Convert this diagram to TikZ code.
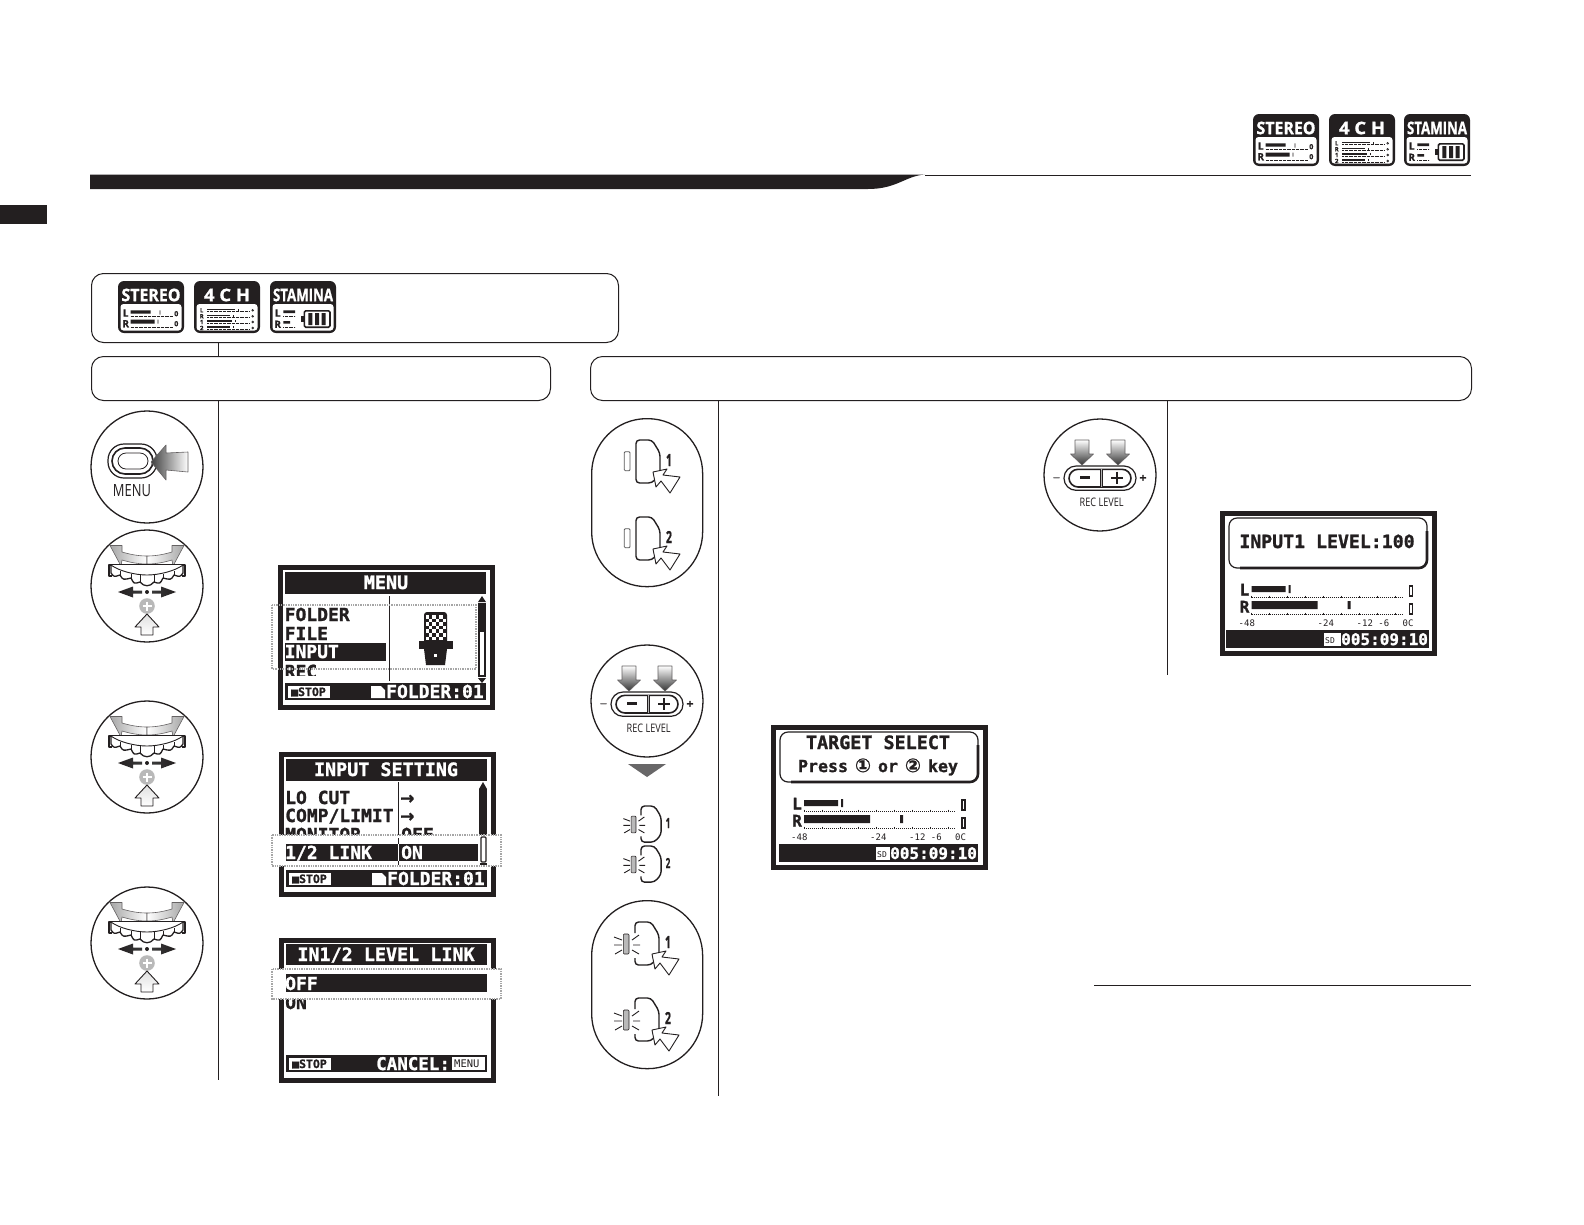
\documentclass[tikz,border=0pt]{standalone}
\usepackage{fontspec}
\usepackage{graphicx}
\newfontfamily\lcdf[BoldFeatures={FakeBold=1.3}]{DejaVu Sans Mono}
\newfontfamily\dvs[BoldFeatures={FakeBold=1}]{DejaVu Sans}
\newfontfamily\opn[BoldFeatures={FakeBold=1.2}]{Open Sans}
\definecolor{ink}{HTML}{231F20}
\newcommand\lcdb[1]{\lcdf\bfseries\fontsize{#1}{#1}\selectfont}
\newcommand\lcdr[1]{\lcdf\fontsize{#1}{#1}\selectfont}
\tikzset{
  thinbox/.style={draw=ink,line width=1pt,rounded corners=12pt,minimum height=44pt,inner sep=0pt,anchor=north west},
  roundicon/.style={circle,draw=ink,line width=1.3pt,minimum size=112pt,inner sep=0pt},
  rule/.style={ink,line width=1pt},
  ltxt/.style={inner sep=0pt,anchor=base west,text=ink},
  ctxt/.style={inner sep=0pt,anchor=base,text=ink},
  wtxt/.style={inner sep=0pt,anchor=base west,text=white},
  ptr/.style={draw=ink,line width=.9pt,line join=round,fill=white},
  gshade/.style={draw=ink!70,line width=.6pt,line join=round},
  dotband/.style={draw=gray!70,line width=1.5pt,dash pattern=on 1.4pt off 1pt},
  mdots/.style={ink,line width=.8pt,dash pattern=on .8pt off 1.2pt},
  bdots/.style={ink,line width=.5pt,dash pattern=on .6pt off .7pt},
  %
  stereobadge/.pic={
    \fill[ink,rounded corners=6pt] (0,0) rectangle (66,52);
    \fill[white,rounded corners=3pt] (2.5,23) rectangle (63.5,49.5);
    \node[inner sep=0pt,text=white] (-t) at (33,14) {\resizebox{59pt}{12.5pt}{\opn\bfseries STEREO}};
    \node[inner sep=0pt,text=ink] (-l) at (7.7,32) {\opn\bfseries\fontsize{10}{10}\selectfont L};
    \node[inner sep=0pt,text=ink] (-r) at (7.7,42.7) {\opn\bfseries\fontsize{10}{10}\selectfont R};
    \fill[ink] (12.7,29.3) rectangle (32.7,32.7) (41.6,29.3) rectangle (42.4,33.5);
    \fill[ink] (12.7,38.7) rectangle (36.7,42.7) (39.6,38.7) rectangle (40.4,42.7);
    \draw[bdots] (12.7,35) -- (55,35) (12.7,46) -- (55,46);
    \node[inner sep=0pt,text=ink] (-a) at (58.3,32.7) {\opn\bfseries\fontsize{7}{7}\selectfont 0};
    \node[inner sep=0pt,text=ink] (-b) at (58.3,42.7) {\opn\bfseries\fontsize{7}{7}\selectfont 0};
  },
  chbadge/.pic={
    \fill[ink,rounded corners=6pt] (0,0) rectangle (66,52);
    \fill[white,rounded corners=3pt] (2.5,23) rectangle (63.5,49.5);
    \node[inner sep=0pt,text=white] (-t) at (33,14) {\resizebox{46pt}{12.5pt}{\opn\bfseries 4 C H}};
    \foreach \yy/\ll/\ww [count=\ci] in {29.3/L/41,35.3/R/36,41/1/37.7,47/2/36}{
      \node[inner sep=0pt,text=ink] (-l\ci) at (7.7,\yy) {\opn\bfseries\fontsize{6}{6}\selectfont \ll};
      \fill[ink] (13,\yy-1.8) rectangle (\ww,\yy-.3);
      \fill[ink] (\ww+3,\yy-1.8) rectangle (\ww+3.7,\yy+.2);
      \draw[bdots] (13,\yy+1) -- (55,\yy+1);
      \draw[ink,line width=.6pt] (58.7,\yy) circle (.9);
    }
  },
  staminabadge/.pic={
    \fill[ink,rounded corners=6pt] (0,0) rectangle (66,52);
    \fill[white,rounded corners=3pt] (2.5,23) rectangle (63.5,49.5);
    \node[inner sep=0pt,text=white] (-t) at (33,14) {\resizebox{60pt}{12.5pt}{\opn\bfseries STAMINA}};
    \node[inner sep=0pt,text=ink] (-l) at (7.7,32) {\opn\bfseries\fontsize{10}{10}\selectfont L};
    \node[inner sep=0pt,text=ink] (-r) at (7.7,43.3) {\opn\bfseries\fontsize{10}{10}\selectfont R};
    \fill[ink] (13.3,29.3) rectangle (25,32) (13.3,40) rectangle (20,42.7);
    \draw[bdots] (13.3,35) -- (25,35) (13.3,46) -- (25,46);
    \draw[ink,line width=1.6pt,rounded corners=1.5pt] (34.3,29.8) rectangle (60,46.2);
    \fill[ink] (30.7,35) rectangle (34.3,41);
    \fill[ink] (38.3,32) rectangle (42.3,44) (45,32) rectangle (49,44) (51.7,32) rectangle (55.7,44);
  },
  %
  dial/.pic={
    \node[roundicon] (-c) at (0,0) {};
    \path[gshade,left color=gray!70,right color=white]
      (0,-30) .. controls (-10,-30) and (-18,-32) .. (-25,-34) -- (-25,-40.5) -- (-37,-40.5) -- (-26,-20) -- (-25,-26)
      .. controls (-18,-24) and (-10,-22) .. (0,-22) -- cycle;
    \path[gshade,right color=gray!70,left color=white]
      (0,-30) .. controls (10,-30) and (18,-32) .. (25,-34) -- (25,-40.5) -- (37,-40.5) -- (26,-20) -- (25,-26)
      .. controls (18,-24) and (10,-22) .. (0,-22) -- cycle;
    \draw[ink,line width=1.2pt,line join=round] (-35,-10) -- (-38,-10) -- (-38,-21) -- (38,-21) -- (38,-10) -- (35,-10);
    \draw[ink,line width=1.3pt,fill=white,line join=round] (-36,-21)
      -- (-36,-13) .. controls (-33,-9) .. (-27,-11) .. controls (-24,-6) .. (-16,-8) .. controls (-13,-2) .. (-7,-4)
      .. controls (-3,1) and (3,1) .. (7,-4) .. controls (13,-2) .. (16,-8) .. controls (24,-6) .. (27,-11)
      .. controls (33,-9) .. (36,-13) -- (36,-21);
    \draw[ink,line width=.9pt] (-36,-21) .. controls (-28,-15) and (-12,-11) .. (0,-11) .. controls (12,-11) and (28,-15) .. (36,-21);
    \draw[ink,line width=.9pt] (-27,-11) -- (-27,-15.5) (-16,-8) -- (-16,-12.5) (-7,-4) -- (-7,-11) (7,-4) -- (7,-11) (16,-8) -- (16,-12.5) (27,-11) -- (27,-15.5);
    \fill[ink] (0,6) circle (2);
    \path[left color=ink,right color=gray!45!black] (-29,6) -- (-14,.5) -- (-14,4.5) -- (-5,4.5) -- (-5,7.5) -- (-14,7.5) -- (-14,11.5) -- cycle;
    \path[right color=ink,left color=gray!45!black] (29,6) -- (14,.5) -- (14,4.5) -- (5,4.5) -- (5,7.5) -- (14,7.5) -- (14,11.5) -- cycle;
    \fill[gray!55] (0,20) circle (7.8);
    \draw[white,line width=2pt] (-4.5,20) -- (4.5,20) (0,15.5) -- (0,24.5);
    \path[ptr,top color=gray!25,bottom color=white] (0,28) -- (12,41) -- (6,41) -- (6,49) -- (-6,49) -- (-6,41) -- (-12,41) -- cycle;
  },
  %
  reclevel/.pic={
    \node[roundicon] (-c) at (0,0) {};
    \draw[ink,line width=1.2pt,rounded corners=12pt] (-36,-9) rectangle (36,15.3);
    \draw[ink,line width=1.6pt,rounded corners=9pt] (-31,-5.7) rectangle (31,12);
    \draw[gray!60,line width=2pt] (1.2,-5.7) -- (1.2,12);
    \draw[ink,line width=.6pt] (0,-5.7) -- (0,12) (2.4,-5.7) -- (2.4,12);
    \fill[ink] (-20,1.3) rectangle (-10,4.2);
    \draw[ink,line width=2pt] (11,2.7) -- (23,2.7) (17,-3.3) -- (17,8.7);
    \node[inner sep=0pt,text=ink] (-m) at (-43.5,3.5) {\resizebox{7pt}{2pt}{\opn\bfseries –}};
    \node[inner sep=0pt,text=ink] (-p) at (43,3.5) {\resizebox{7pt}{7pt}{\opn\bfseries +}};
    \node[inner sep=0pt,text=ink] (-t) at (1.7,27) {\resizebox{44pt}{8.5pt}{\opn REC LEVEL}};
    \foreach \xc in {-18,18}{
      \path[gshade,top color=white,bottom color=gray!40!black]
        (\xc-7,-35) -- (\xc+7,-35) -- (\xc+7,-21) -- (\xc+11.5,-21) -- (\xc,-10) -- (\xc-11.5,-21) -- (\xc-7,-21) -- cycle;
    }
  },
}
% button shapes, local origin = left/top of the key
\newcommand\keyclosed{\draw[ink,line width=1.4pt,rounded corners=3.5pt] (0,20) -- (0,0) -- (16,0) -- (24,13) -- (24,34) -- (16,43) -- (0,43) -- cycle;}
\newcommand\keyopen{\draw[ink,line width=1.4pt,rounded corners=3.5pt] (0,11) -- (0,0) -- (16,0) -- (24,13) -- (24,34) -- (16,43) -- (0,43) -- (0,36);}
\newcommand\keyptr{\draw[ptr] (17,32) -- (31,29) -- (27,35) -- (44,37) -- (34,53) -- (25,41) -- (20,47) -- cycle;}
\newcommand\rays{\draw[ink,line width=.9pt] (-21,15) -- (-13,18) (-21,23) -- (-13,23) (-20,32) -- (-13,28) (-3,18) -- (4,13) (-2,23) -- (5,23) (-3,28) -- (4,32);}
\newcommand\ledoff{\draw[gray!70!black,line width=.8pt,rounded corners=1pt] (-11.7,11.7) rectangle (-6,30.7);}
\newcommand\ledon{\draw[ink,line width=.6pt,fill=gray!55,rounded corners=1pt] (-11.7,12) rectangle (-6,32);}
\tikzset{
  keypress/.pic={\ledoff\keyclosed\keyptr
    \node[inner sep=0pt,anchor=base,text=ink] (-n) at (33,26) {\resizebox{6pt}{12pt}{\opn\bfseries\tikzpictext}};},
  keyflash/.pic={\ledon\rays\keyopen\keyptr
    \node[inner sep=0pt,anchor=base,text=ink] (-n) at (33,26) {\resizebox{6pt}{12pt}{\opn\bfseries\tikzpictext}};},
  keysmall/.pic={\begin{scope}[scale=.84]\ledon\rays\keyopen\end{scope}
    \node[inner sep=0pt,anchor=base,text=ink] (-n) at (27,22) {\resizebox{4.5pt}{10pt}{\opn\bfseries\tikzpictext}};},
}
% LCD helpers
\newcommand\lcdframe{\fill[white] (0,0) rectangle (217,145);\draw[ink,line width=5pt] (2.5,2.5) rectangle (214.5,142.5);}
\newcommand\stopbox[1]{%
  \fill[ink] (7,#1) rectangle (208,#1+17);
  \fill[white] (10,#1+3) rectangle (52,#1+15);
  \node[ltxt] (stp) at (13,#1+13) {\lcdb{11.5}■STOP};}
% #1 left, #2 right, #3 left of the SD box, #4 left of the digits
\newcommand\meterbar[4]{%
  \fill[ink] (#1,119) rectangle (#2,137);
  \fill[white] (#3,121.5) rectangle (#4-.5,134.5);
  \node[ltxt] (sdt) at (#3+1,132) {\lcdr{8}SD};
  \node[wtxt] (tme) at (#4,134) {\lcdb{16}005:09:10};}
\newcommand\meters{%
  \node[ltxt] (ll) at (21,84.5) {\lcdb{16}L};
  \node[ltxt] (lr) at (21,101.5) {\lcdb{16}R};
  \fill[ink] (33,75) rectangle (67,81) (70,74) rectangle (72,82);
  \fill[ink] (33,90) rectangle (99,98) (129,90) rectangle (132,98);
  \draw[mdots] (33,86) -- (184,86) (33,103) -- (184,103);
  \foreach \xt in {33,51,69,87,105,123,141,159,177}{\draw[ink,line width=.7pt] (\xt,84.5) -- (\xt,86.5) (\xt,101.5) -- (\xt,103.5);}
  \draw[ink,line width=1.4pt] (191,75) rectangle (194,85) (191,93) rectangle (194,103);
  \node[ltxt] (s1) at (20,115) {\lcdr{9}-48};
  \node[ltxt] (s2) at (99,115) {\lcdr{9}-24};
  \node[ltxt] (s3) at (138,115) {\lcdr{9}-12 -6};
  \node[ltxt] (s4) at (184,115) {\lcdr{9}0C};}
\newcommand\msgbox{%
  \draw[ink,line width=1.2pt,rounded corners=8pt] (9,7) rectangle (207,57);
  \draw[ink,line width=2.6pt,rounded corners=8pt] (207,20) -- (207,57) -- (20,57);}
\begin{document}
\begin{tikzpicture}[x=1pt,y=-1pt]
\useasboundingbox (0,0) rectangle (1584,1224);
\fill[white] (0,0) rectangle (1584,1224);
% header
\pic (tb1) at (1253,114) {stereobadge};
\pic (tb2) at (1329,114) {chbadge};
\pic (tb3) at (1404,114) {staminabadge};
\fill[ink] (90,174.5) -- (925,174.5) .. controls (905,176) and (897,189) .. (868,189) -- (90,189) -- cycle;
\draw[rule] (925,175) -- (1471,175);
\fill[ink] (0,205) rectangle (47,224);
% boxes
\node[thinbox,minimum width=527pt,minimum height=69pt] (box1) at (91,273) {};
\node[thinbox,minimum width=459pt] (box2) at (91,356) {};
\node[thinbox,minimum width=881pt] (box3) at (590,356) {};
\pic (mb1) at (118,281) {stereobadge};
\pic (mb2) at (194,281) {chbadge};
\pic (mb3) at (270,281) {staminabadge};
\coordinate (leftEnd) at (218.6,1080);
\coordinate (midEnd) at (718.7,1096);
\coordinate (rightEnd) at (1167,675);
\coordinate (noteL) at (1094,985.6);
\coordinate (noteR) at (1471,985.6);
\draw[rule] (box1.south -| leftEnd) -- (box2.north -| leftEnd);
\draw[rule] (box2.south -| leftEnd) -- (leftEnd);
\draw[rule] (box3.south -| midEnd) -- (midEnd);
\draw[rule] (box3.south -| rightEnd) -- (rightEnd);
\draw[rule] (noteL) -- (noteR);
% MENU icon
\node[roundicon] (menuc) at (147,467) {};
\draw[ink,line width=1.2pt,rounded corners=16pt] (108,444) rectangle (157,478);
\draw[ink,line width=1.6pt,rounded corners=13pt] (112,448) rectangle (153,474);
\draw[ink,line width=.8pt,rounded corners=8pt] (118,453) rectangle (148,469);
\path[gshade,left color=gray!50!black,right color=white] (151,462) -- (166,445) -- (166,453) -- (188,452) -- (188,472) -- (166,470) -- (166,480) -- cycle;
\node[inner sep=0pt,anchor=base,text=ink] (menut) at (132,496) {\resizebox{38pt}{12pt}{\opn MENU}};
\pic (d1) at (147,586) {dial};
\pic (d2) at (147,757) {dial};
\pic (d3) at (147,943) {dial};
% capsule 1
\node[draw=ink,line width=1.3pt,rounded corners=55pt,minimum width=111pt,minimum height=168pt,inner sep=0pt,anchor=north west] (cap1) at (591,418) {};
\pic[pic text=1] (k1) at (636,440) {keypress};
\pic[pic text=2] (k2) at (636,517) {keypress};
\pic (rl1) at (647,701) {reclevel};
\fill[gray!75!ink] (628,764) -- (666,764) -- (647,777) -- cycle;
\pic[pic text=1] (s1k) at (641,806) {keysmall};
\pic[pic text=2] (s2k) at (641,846) {keysmall};
% capsule 2
\node[draw=ink,line width=1.3pt,rounded corners=55pt,minimum width=111pt,minimum height=168pt,inner sep=0pt,anchor=north west] (cap2) at (591,900) {};
\pic[pic text=1] (k3) at (635,922) {keyflash};
\pic[pic text=2] (k4) at (635,998) {keyflash};
\pic (rl2) at (1100,475) {reclevel};
% LCD MENU
\begin{scope}[shift={(278,565)}]
  \lcdframe
  \fill[ink] (7,7) rectangle (208,29);
  \node[inner sep=0pt,anchor=base,text=white] (a0) at (108,24) {\lcdb{18.4}MENU};
  \draw[ink,line width=.9pt] (111,31) -- (111,116);
  \node[ltxt] (a1) at (6.5,56) {\lcdb{18}FOLDER};
  \node[ltxt] (a2) at (6.5,75) {\lcdb{18}FILE};
  \fill[ink] (7,78) rectangle (108,96);
  \node[wtxt] (a3) at (6.5,93) {\lcdb{18}INPUT};
  \begin{scope}
    \clip (0,90) rectangle (110,110);
    \node[ltxt] (a4) at (6.5,113) {\lcdb{18}REC};
  \end{scope}
  % microphone
  \fill[ink,rounded corners=3pt] (146,47) rectangle (169,80);
  \foreach \xa in {0,...,5}{\foreach \ya in {0,...,6}{
    \pgfmathparse{int(mod(\xa+\ya,2))}
    \ifnum\pgfmathresult=0 \fill[white] (147.5+\xa*3.4,50+\ya*3.6) rectangle +(3.4,3.6);\fi}}
  \fill[ink] (141,76) rectangle (175,84);
  \fill[ink] (146,84) -- (169,84) -- (167,100) -- (148,100) -- cycle;
  \fill[white] (155.5,88.5) rectangle (158.5,91.5);
  % scrollbar
  \fill[ink] (200,38) rectangle (208,112);
  \fill[white] (202,67) rectangle (206,110);
  \fill[ink] (200,37) -- (208,37) -- (204,31) -- cycle;
  \fill[ink] (200,113) -- (208,113) -- (204,118) -- cycle;
  \stopbox{118}
  \fill[white] (93,121) -- (103,121) -- (107,125) -- (107,133) -- (93,133) -- cycle;
  \node[wtxt] (a5) at (108,133) {\lcdb{18}FOLDER:01};
  \draw[dotband] (-6,40) rectangle (198,104);
\end{scope}
% LCD INPUT SETTING
\begin{scope}[shift={(279,752)}]
  \lcdframe
  \fill[ink] (7,7) rectangle (208,29);
  \node[inner sep=0pt,anchor=base,text=white] (b0) at (107,24) {\lcdb{18.4}INPUT SETTING};
  \draw[ink,line width=.9pt] (119,30) -- (119,112);
  \node[ltxt] (b1) at (6,52) {\lcdb{18}LO CUT};
  \node[ltxt] (b2) at (6,70) {\lcdb{18}COMP/LIMIT};
  \node[ltxt] (b3) at (6,89) {\lcdb{18}MONITOR};
  \node[ltxt] (b4) at (122,89) {\lcdb{18}OFF};
  \node[ltxt] (b5) at (121,52) {\dvs\bfseries\fontsize{17}{17}\selectfont →};
  \node[ltxt] (b6) at (121,70) {\dvs\bfseries\fontsize{17}{17}\selectfont →};
  \fill[ink] (200,37) rectangle (208,84);
  \fill[ink] (200,37) -- (208,37) -- (204,30) -- cycle;
  \stopbox{118}
  \fill[white] (93,121) -- (103,121) -- (107,125) -- (107,133) -- (93,133) -- cycle;
  \node[wtxt] (b7) at (108,133) {\lcdb{18}FOLDER:01};
  \draw[dotband,fill=white] (-7,83) rectangle (222,114);
  \fill[ink] (7,92) rectangle (199,109);
  \draw[white,line width=.9pt] (119,92) -- (119,109);
  \draw[ink,line width=.9pt] (119,86) -- (119,92) (119,109) -- (119,113);
  \node[wtxt] (b8) at (6,107) {\lcdb{18}1/2 LINK};
  \node[wtxt] (b9) at (122,107) {\lcdb{18}ON};
  \draw[ink,line width=1.2pt,rounded corners=1pt] (202,85) rectangle (207,110);
  \fill[ink] (201,110.5) rectangle (208,112.5);
\end{scope}
% LCD LEVEL LINK
\begin{scope}[shift={(279,938)}]
  \lcdframe
  \fill[ink] (7,6) rectangle (208,27);
  \node[inner sep=0pt,anchor=base,text=white] (c0) at (107,23) {\lcdb{18.4}IN1/2 LEVEL LINK};
  \node[ltxt] (c1) at (6,71) {\lcdb{18}ON};
  \draw[dotband,fill=white] (-7,31) rectangle (222,61);
  \fill[ink] (7,36) rectangle (208,54);
  \node[wtxt] (c2) at (6,52) {\lcdb{18}OFF};
  \stopbox{117}
  \node[wtxt] (c3) at (97,132) {\lcdb{17.5}CANCEL:};
  \fill[white] (173,119) rectangle (206,131.5);
  \node[ltxt] (c4) at (175,129.5) {\lcdr{10.5}MENU};
\end{scope}
% LCD TARGET SELECT
\begin{scope}[shift={(771,725)}]
  \lcdframe
  \msgbox
  \node[inner sep=0pt,anchor=base,text=ink] (d0) at (107,24) {\lcdb{18.4}TARGET SELECT};
  \node[inner sep=0pt,anchor=base,text=ink] (d5) at (107,47) {\lcdb{16.6}Press \makebox[10pt][c]{\dvs\bfseries\fontsize{19}{19}\selectfont ①} or \makebox[10pt][c]{\dvs\bfseries\fontsize{19}{19}\selectfont ②} key};
  \meterbar{8}{207}{105}{119}
  \meters
\end{scope}
% LCD INPUT1 LEVEL
\begin{scope}[shift={(1220,511)}]
  \lcdframe
  \msgbox
  \node[inner sep=0pt,anchor=base,text=ink] (e0) at (107,37) {\lcdb{18.2}INPUT1 LEVEL:100};
  \meterbar{6}{209}{104}{121}
  \begin{scope}[shift={(-1.5,0)}]\meters\end{scope}
\end{scope}
\end{tikzpicture}
\end{document}
